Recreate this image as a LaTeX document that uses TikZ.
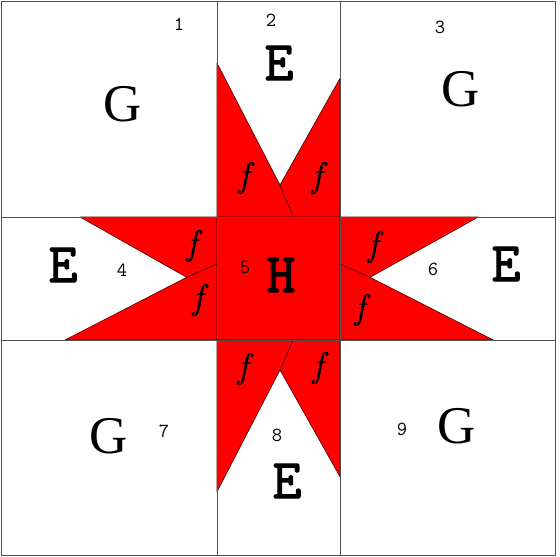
\documentclass[tikz,border=0pt]{standalone}
\usepackage{fontspec}
\newfontfamily\slabfont[FakeBold=2.2]{Latin Modern Mono}
\newfontfamily\gfont{Liberation Serif}
\newfontfamily\numfont{Latin Modern Mono}
\newfontfamily\ffont[FakeBold=1.2]{Latin Modern Roman}
\begin{document}
\begin{tikzpicture}[x=1pt,y=-1pt,
  piece/.style={fill=red,draw={rgb,255:red,70;green,0;blue,0},line width=0.6pt,line join=round},
  grid/.style={draw={rgb,255:red,80;green,80;blue,80},line width=0.8pt},
  big/.style={inner sep=0pt,font=\slabfont\fontsize{56}{56}\selectfont},
  bigg/.style={inner sep=0pt,font=\gfont\fontsize{53}{53}\selectfont},
  num/.style={inner sep=0pt,font=\numfont\fontsize{20}{20}\selectfont},
  ff/.style={inner sep=0pt,font=\ffont\itshape\fontsize{35}{35}\selectfont}]
\useasboundingbox (0,0) rectangle (560,557);
\fill[white] (0,0) rectangle (560,557);
% centre square
\filldraw[piece] (217,217) rectangle (340,340);
% top arm
\filldraw[piece] (217,63) -- (280,185) -- (293.3,217) -- (217,217) -- cycle;
\filldraw[piece] (340,78.3) -- (340,217) -- (293.3,217) -- (280,185) -- cycle;
% bottom arm
\filldraw[piece] (217,340) -- (293.3,340) -- (280,370) -- (217,491.7) -- cycle;
\filldraw[piece] (293.3,340) -- (340,340) -- (340,476.7) -- (280,370) -- cycle;
% left arm
\filldraw[piece] (80,217) -- (217,217) -- (217,264) -- (186.7,277.3) -- cycle;
\filldraw[piece] (186.7,277.3) -- (217,264) -- (217,340) -- (65,340) -- cycle;
% right arm
\filldraw[piece] (340,217) -- (478.3,217) -- (370,277.3) -- (340,264) -- cycle;
\filldraw[piece] (340,264) -- (370,277.3) -- (493.3,340) -- (340,340) -- cycle;
% grid
\draw[grid] (1,1) rectangle (555,555);
\draw[grid] (217,1) -- (217,555);
\draw[grid] (340,1) -- (340,555);
\draw[grid] (1,217) -- (555,217);
\draw[grid] (1,340) -- (555,340);
% big letters
\node[bigg] (g1) at (123,104) {G};
\node[big] (e2) at (279,63) {E};
\node[bigg] (g3) at (461,89) {G};
\node[big] (e4) at (63,265) {E};
\node[big] (h5) at (281,275) {H};
\node[big] (e6) at (506,264) {E};
\node[bigg] (g7) at (109,436) {G};
\node[big] (e8) at (287,481) {E};
\node[bigg] (g9) at (457,426) {G};
% numbers
\node[num] (n1) at (179,24) {1};
\node[num] (n2) at (271,20) {2};
\node[num] (n3) at (440,27) {3};
\node[num] (n4) at (122,270) {4};
\node[num] (n5) at (245,268) {5};
\node[num] (n6) at (433,269) {6};
\node[num] (n7) at (164,431) {7};
\node[num] (n8) at (277,435) {8};
\node[num] (n9) at (402,429) {9};
% f labels
\node[ff] (f1) at (244,178) {f};
\node[ff] (f2) at (317,178) {f};
\node[ff] (f3) at (192,246) {f};
\node[ff] (f4) at (198,300) {f};
\node[ff] (f5) at (373,247) {f};
\node[ff] (f6) at (360,310) {f};
\node[ff] (f7) at (243,369) {f};
\node[ff] (f8) at (318,368) {f};
\end{tikzpicture}
\end{document}
